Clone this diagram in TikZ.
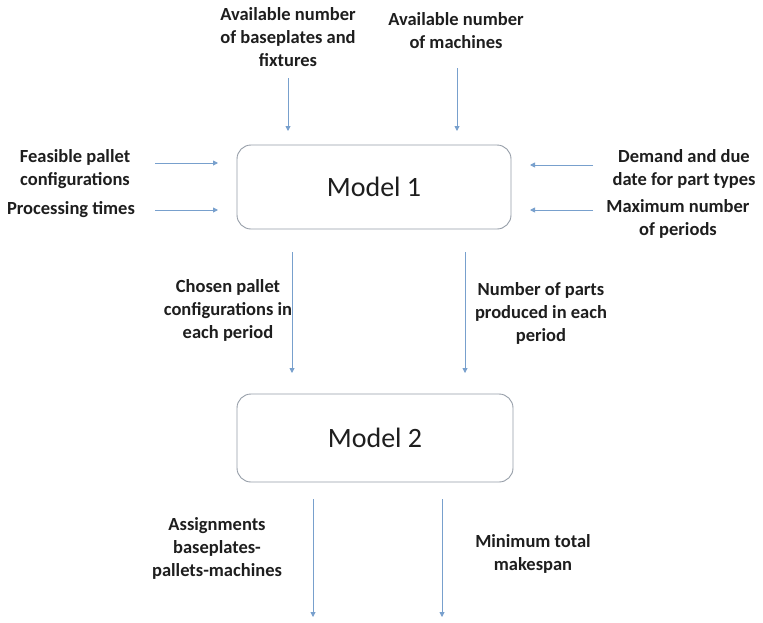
\documentclass[tikz,border=0pt]{standalone}
\usepackage{fontspec}
\setmainfont{Carlito}
\usetikzlibrary{arrows.meta}
\definecolor{arrowblue}{RGB}{120,160,205}
\definecolor{boxgray}{RGB}{150,158,168}
\definecolor{txt}{RGB}{30,30,30}
\tikzset{
  lbl/.style={align=center, text=txt, font=\bfseries\fontsize{18.5}{23}\selectfont, inner sep=0pt},
  modelbox/.style={draw=boxgray, line width=0.9pt, rounded corners=14pt, fill=white, text=txt, font=\fontsize{28}{32}\selectfont},
  flow/.style={draw=arrowblue, line width=0.9pt, -{Triangle[length=5pt,width=5pt]}}
}
\begin{document}
\begin{tikzpicture}[x=1pt,y=-1pt]
\useasboundingbox (0,0) rectangle (763,622);
\fill[white] (0,0) rectangle (763,622);
% boxes
\node[modelbox, minimum width=274pt, minimum height=84pt] (m1) at (374,187) {Model 1};
\node[modelbox, minimum width=276pt, minimum height=88pt] (m2) at (375,438) {Model 2};
% labels
\node[lbl] (l1) at (288,37) {Available number\\of baseplates and\\fixtures};
\node[lbl] (l2) at (456,31) {Available number\\of machines};
\node[lbl] (l3) at (75,169) {Feasible pallet\\configurations};
\node[lbl] (l4) at (71,210) {Processing times};
\node[lbl] (l5) at (684,169) {Demand and due\\date for part types};
\node[lbl] (l6) at (678,219) {Maximum number\\of periods};
\node[lbl] (l7) at (228,310) {Chosen pallet\\configurations in\\each period};
\node[lbl] (l8) at (541,313) {Number of parts\\produced in each\\period};
\node[lbl] (l9) at (217,548) {Assignments\\baseplates-\\pallets-machines};
\node[lbl] (l10) at (533,554) {Minimum total\\makespan};
% arrow coordinates
\coordinate (a1s) at (288,78);  \coordinate (a1e) at (288,131);
\coordinate (a2s) at (457,68);  \coordinate (a2e) at (457,131);
\coordinate (a3s) at (155,163); \coordinate (a3e) at (218,163);
\coordinate (a4s) at (155,210); \coordinate (a4e) at (218,210);
\coordinate (a5s) at (593,165); \coordinate (a5e) at (530,165);
\coordinate (a6s) at (593,210); \coordinate (a6e) at (530,210);
\coordinate (a7s) at (292,252); \coordinate (a7e) at (292,373);
\coordinate (a8s) at (465,252); \coordinate (a8e) at (465,373);
\coordinate (a9s) at (313,499); \coordinate (a9e) at (313,617);
\coordinate (a10s) at (442,499); \coordinate (a10e) at (442,617);
\foreach \i in {1,...,10} {\draw[flow] (a\i s) -- (a\i e);}
\end{tikzpicture}
\end{document}
